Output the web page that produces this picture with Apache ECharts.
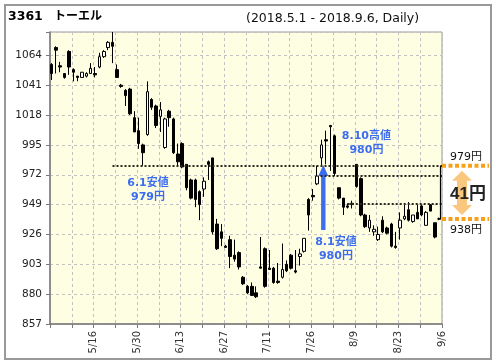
<!DOCTYPE html>
<html><head><meta charset="utf-8">
<script src="https://cdn.jsdelivr.net/npm/echarts/dist/echarts.min.js"></script>
<style>html,body{margin:0;padding:0;background:#fff}#c{width:496px;height:364px}</style>
</head><body><div id="c"></div>
<script>
const dates = ['5/1','5/2','5/7','5/8','5/9','5/10','5/11','5/14','5/15','5/16','5/17','5/18','5/21','5/22','5/23','5/24','5/25','5/28','5/29','5/30','5/31',
'6/1','6/4','6/5','6/6','6/7','6/8','6/11','6/12','6/13','6/14','6/15','6/18','6/19','6/20','6/21','6/22','6/25','6/26','6/27','6/28','6/29',
'7/2','7/3','7/4','7/5','7/6','7/9','7/10','7/11','7/12','7/13','7/17','7/18','7/19','7/20','7/23','7/24','7/25','7/26','7/27','7/30','7/31',
'8/1','8/2','8/3','8/6','8/7','8/8','8/9','8/10','8/13','8/14','8/15','8/16','8/17','8/20','8/21','8/22','8/23','8/24','8/27','8/28','8/29','8/30','8/31',
'9/3','9/4','9/5','9/6'];
const openP  = [1057,1070,1056,1050,1067,1053,1048,1047,1048,1050,1050,1055,1063,1070,1074,1053,1041,1037,1038,1016,1006,
 995,1003,1030,1025,1017,993,1021,1015,988,996,980,968,968,959,961,982,985,934,928,917,922,
 910,912,893,886,886,881,901,915,900,900,890,893,903,910,898,909,913,953,956,965,985,
 999,1010,1002,962,954,948,949,980,969,941,931,928,922,937,931,934,917,931,938,945,936,943,948,
 933,949,935,938];
const highP  = [1058,1071,1059,1050,1068,1054,1048,1051,1051,1058,1055,1066,1068,1075,1082,1057,1042,1038,1039,1021,1016,
 996,1044,1031,1026,1028,1016,1022,1016,996,997,980,969,969,960,970,983,985,938,934,918,925,
 922,913,894,887,889,886,924,916,914,901,904,919,906,911,914,915,923,954,961,979,999,
 1006,1010,1003,962,954,950,952,980,970,942,941,933,932,940,932,935,928,943,949,951,941,949,949,
 944,949,935,939];
const lowP   = [1045,1050,1051,1046,1049,1044,1044,1047,1047,1050,1047,1054,1062,1068,1058,1047,1039,1025,1018,1005,992,
 979,1002,1022,1008,1005,992,1009,988,978,977,960,953,947,937,955,968,926,914,917,916,900,
 905,899,887,880,879,877,900,885,899,888,888,892,897,899,896,902,912,929,952,964,978,
 980,975,971,953,941,946,946,962,940,931,928,925,921,927,926,916,915,922,937,936,935,938,940,
 933,944,923,937];
const closeP = [1050,1068,1055,1047,1055,1051,1047,1051,1050,1054,1049,1063,1067,1074,1071,1047,1040,1033,1019,1005,996,
 989,1036,1024,1010,1022,1015,1016,989,982,978,962,954,953,949,967,980,928,915,923,916,909,
 907,901,888,881,879,878,900,886,899,889,889,899,898,900,897,911,923,941,955,971,995,
 998,1009,973,954,947,947,950,963,941,932,937,930,926,928,927,917,916,937,940,937,941,938,941,
 943,944,924,938];
const yTicks = [857,880,903,926,949,972,995,1018,1041,1064];
const levelLines = [ {from: 14, price: 979}, {from: 61.75, price: 971}, {from: 68, price: 949.5} ];
const rangeTop = 979, rangeBottom = 938, rangeText = '41円';
const notes = [
  {idx: 21, lines: ['6.1安値', '979円'], dx: 5, dy: 17},
  {idx: 63, lines: ['8.1安値', '980円'], dx: 10, dy: 78},
  {idx: 70, lines: ['8.10高値', '980円'], dx: 10, dy: -28}
];
const notePrice = [979, 980, 980];
const arrowIdx = 62.4, arrowFrom = 929.4, arrowTo = 979.5;

const X0 = 0.35;
const FF = "'DejaVu Sans','Noto Sans CJK JP',sans-serif";
const chart = echarts.init(document.getElementById('c'), null, {renderer: 'canvas'});
const candles = dates.map((d, i) => [i + X0, openP[i], closeP[i], lowP[i], highP[i]]);

const markData = levelLines.map(l => [{coord: [l.from + X0, l.price]}, {coord: [90, l.price]}]);

chart.setOption({
  animation: false,
  backgroundColor: '#fff',
  grid: {left: 50, right: 54, top: 32, bottom: 40, show: true, backgroundColor: '#FEFEE2',
         borderColor: '#9a9a9a', borderWidth: 1, containLabel: false},
  xAxis: {
    type: 'value', min: 0, max: 90, interval: 5,
    axisLine: {show: true, onZero: false, lineStyle: {color: '#7a7a7a', width: 1.5}},
    axisTick: {show: true, length: 4, lineStyle: {color: '#7a7a7a'}},
    splitLine: {show: true, lineStyle: {color: '#c2c2c2', type: [3, 3], width: 1}},
    axisLabel: {rotate: 90, margin: 7, fontSize: 10, color: '#333', fontFamily: FF,
      formatter: v => (v > 0 && v % 10 === 0) ? dates[v - 1] : ''}
  },
  yAxis: {
    type: 'value', min: 857, max: 1082, interval: 23,
    axisLine: {show: true, onZero: false, lineStyle: {color: '#7a7a7a', width: 1.5}},
    axisTick: {show: true, length: 4, lineStyle: {color: '#7a7a7a'}},
    splitLine: {show: true, lineStyle: {color: '#c2c2c2', type: [3, 3], width: 1}},
    axisLabel: {margin: 8, fontSize: 10.5, color: '#222', fontFamily: FF,
      formatter: v => yTicks.includes(v) ? String(v) : ''}
  },
  series: [{
    type: 'candlestick', data: candles, barWidth: 3,
    itemStyle: {color: '#fff', color0: '#000', borderColor: '#000', borderColor0: '#000', borderWidth: 1},
    markLine: {
      silent: true, symbol: 'none', label: {show: false},
      lineStyle: {color: '#2a2a1a', type: [2, 2], width: 2},
      data: markData.concat([[{coord: [89.6, rangeTop], lineStyle: {type: 'solid', width: 1.2, color: '#000'}},
                              {coord: [89.6, rangeBottom]}]])
    }
  }]
});

const px = (v, p) => chart.convertToPixel({gridIndex: 0}, [v, p]);
const g = [];
g.push({type: 'rect', shape: {x: 5, y: 5, width: 486, height: 354}, style: {fill: null, stroke: '#999', lineWidth: 2}, z: 100});
g.push({type: 'text', x: 8, y: 17, style: {text: '3361', font: 'bold 12.5px ' + FF, fill: '#000', verticalAlign: 'middle'}});
g.push({type: 'text', x: 54, y: 17, style: {text: 'トーエル', font: 'bold 12px ' + FF, fill: '#000', verticalAlign: 'middle'}});
g.push({type: 'text', x: 246, y: 19, style: {text: '(2018.5.1 - 2018.9.6, Daily)', font: '12.5px ' + FF, fill: '#111', verticalAlign: 'middle'}});
const yT = px(0, rangeTop)[1], yB = px(0, rangeBottom)[1];
const xR = px(90, rangeTop)[0];
g.push({type: 'line', shape: {x1: xR - 1, y1: yB, x2: xR - 4, y2: yB}, style: {stroke: '#000', lineWidth: 1.2}});
g.push({type: 'line', shape: {x1: xR, y1: yT, x2: xR + 47, y2: yT}, style: {stroke: '#f7a11a', lineWidth: 4, lineDash: [4, 2.5]}});
g.push({type: 'line', shape: {x1: xR, y1: yB, x2: xR + 47, y2: yB}, style: {stroke: '#f7a11a', lineWidth: 4, lineDash: [4, 2.5]}});
const cx = xR + 20, ty = yT + 5, by = yB - 4;
g.push({type: 'polygon', shape: {points: [[cx, ty], [cx + 10, ty + 10], [cx + 5, ty + 10], [cx + 5, by - 10], [cx + 10, by - 10], [cx, by],
  [cx - 10, by - 10], [cx - 5, by - 10], [cx - 5, ty + 10], [cx - 10, ty + 10]]}, style: {fill: '#f9c87e'}});
g.push({type: 'text', x: xR + 24, y: yT - 9, style: {text: rangeTop + '円', font: '11px ' + FF, fill: '#111', align: 'center', verticalAlign: 'middle'}});
g.push({type: 'text', x: xR + 24, y: yB + 11, style: {text: rangeBottom + '円', font: '11px ' + FF, fill: '#111', align: 'center', verticalAlign: 'middle'}});
g.push({type: 'text', x: xR + 26, y: (yT + yB) / 2 + 2, style: {text: rangeText, font: "bold 17px 'Liberation Sans','Noto Sans CJK JP',sans-serif", fill: '#222', align: 'center', verticalAlign: 'middle'}});
const ax = px(arrowIdx + X0, 0)[0], ayT = px(0, arrowTo)[1], ayB = px(0, arrowFrom)[1];
g.push({type: 'polygon', shape: {points: [[ax, ayT], [ax + 5, ayT + 11], [ax + 2.2, ayT + 11], [ax + 2.2, ayB], [ax - 2.2, ayB], [ax - 2.2, ayT + 11], [ax - 5, ayT + 11]]},
  style: {fill: '#3c6df0'}});
notes.forEach((n, k) => {
  const p = px(n.idx + X0, notePrice[k]);
  n.lines.forEach((t, j) => {
    g.push({type: 'text', x: p[0] + n.dx, y: p[1] + n.dy + j * 14,
      style: {text: t, font: 'bold 11px ' + FF, fill: '#3c6df0', align: 'center', verticalAlign: 'middle'}});
  });
});
chart.setOption({graphic: g});
</script>
</body></html>
